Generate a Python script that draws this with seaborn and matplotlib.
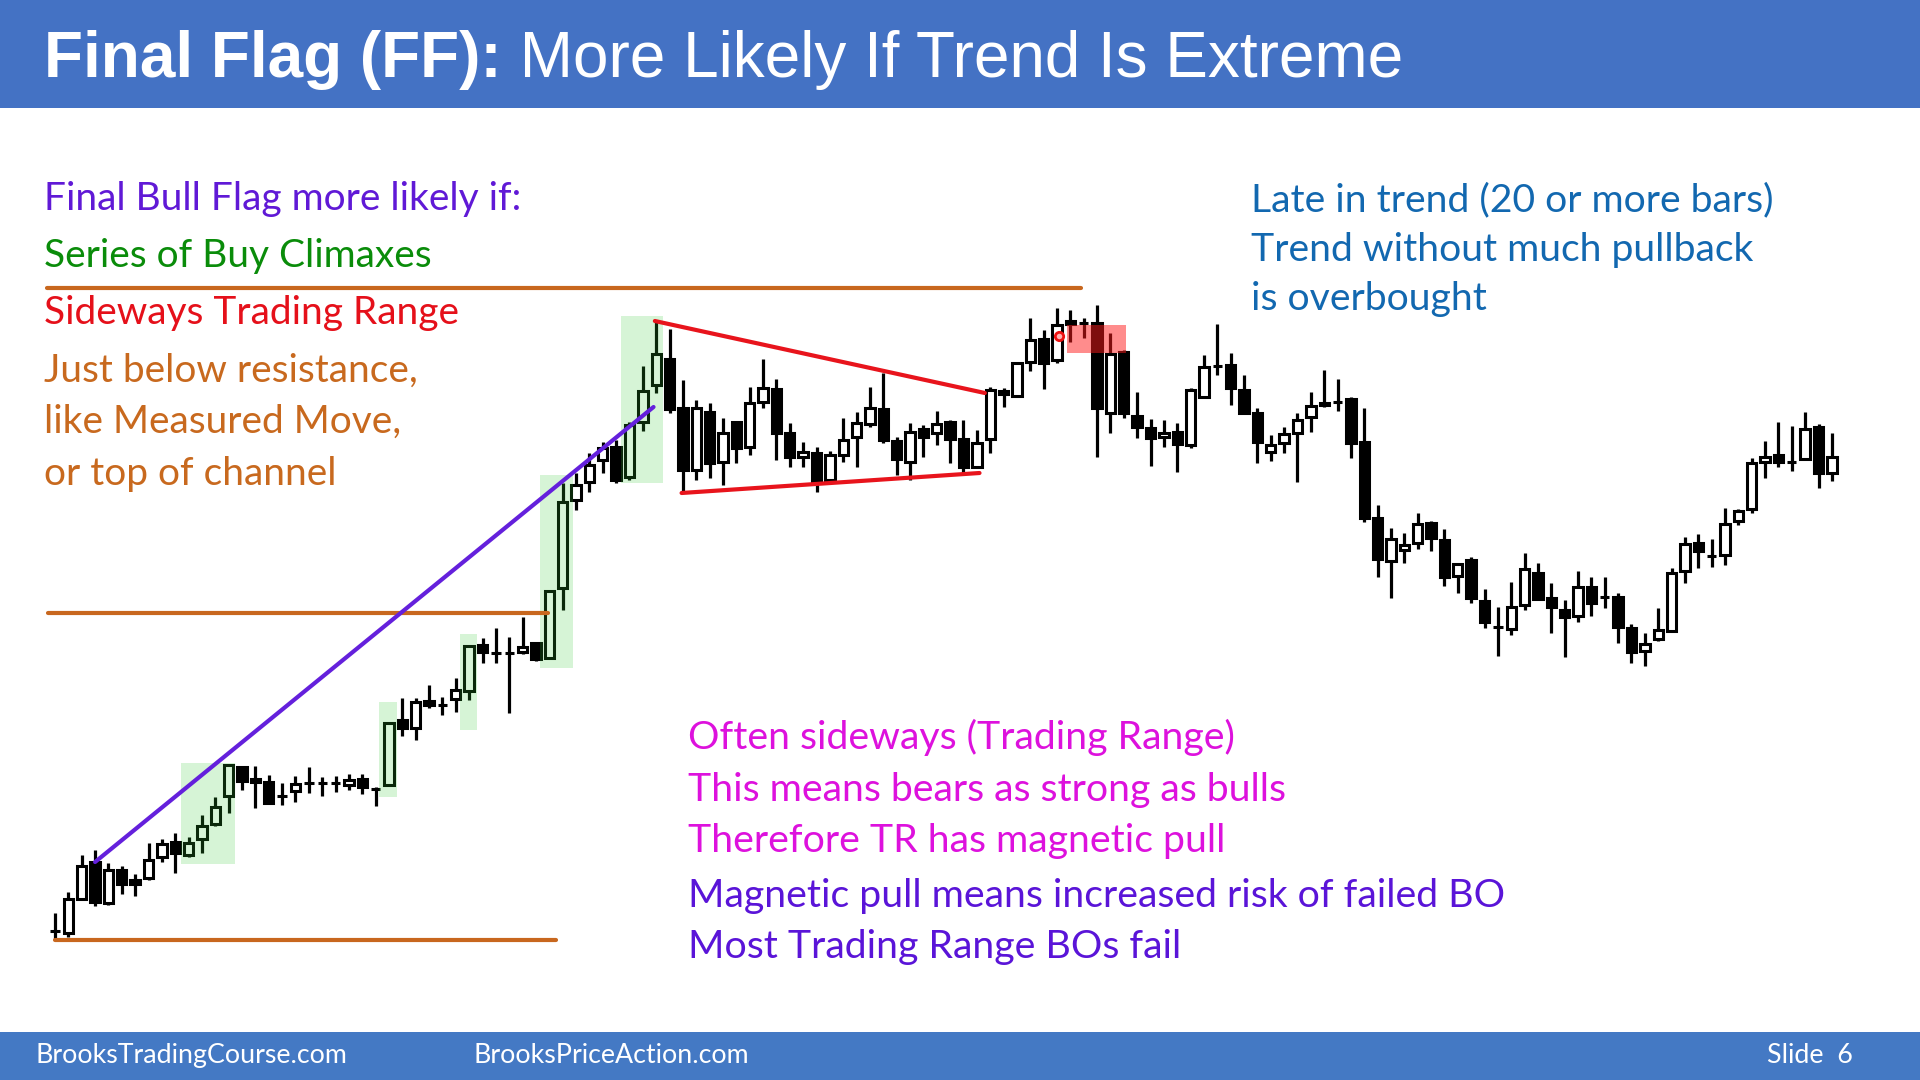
import matplotlib
matplotlib.use("Agg")
import matplotlib.pyplot as plt
import seaborn as sns
import pandas as pd
from matplotlib.patches import Rectangle

# OHLC of every bar (price units), bar index = position in list
opens = [69, 67, 101, 138, 97, 130, 120, 122, 143, 158, 145, 161, 176, 204, 233, 221, 218, 204, 209, 217,
         217, 217, 215, 221, 211, 215, 280, 272, 299, 295, 301, 309, 355, 347, 347, 348, 357, 342, 412, 500,
         518, 540, 553, 523, 578, 615, 641, 592, 530, 588, 538, 578, 553, 598, 611, 567, 543, 547, 520, 545,
         563, 576, 591, 559, 538, 571, 567, 578, 561, 533, 561, 609, 604, 638, 661, 640, 679, 677, 677, 587,
         648, 584, 572, 563, 568, 555, 603, 634, 635, 610, 587, 548, 557, 567, 583, 597, 598, 601, 558, 482,
         439, 450, 457, 477, 460, 424, 440, 399, 373, 371, 395, 427, 402, 390, 384, 413, 403, 403, 372, 349,
         361, 369, 429, 457, 444, 445, 479, 491, 538, 545, 538, 541, 573, 527]
highs = [87, 108, 145, 150, 137, 134, 126, 157, 161, 167, 163, 185, 203, 236, 233, 234, 225, 217, 224, 233,
         223, 224, 226, 226, 213, 278, 302, 302, 315, 303, 322, 355, 362, 372, 363, 383, 358, 410, 517, 527,
         547, 558, 560, 578, 634, 680, 671, 620, 600, 597, 582, 579, 613, 641, 621, 577, 558, 553, 549, 582,
         588, 613, 627, 563, 577, 575, 589, 580, 580, 570, 613, 612, 638, 682, 670, 692, 690, 682, 695, 667,
         650, 608, 581, 580, 577, 612, 645, 676, 647, 625, 592, 565, 573, 587, 608, 630, 621, 603, 592, 495,
         472, 467, 487, 479, 471, 437, 443, 411, 393, 418, 447, 437, 417, 400, 429, 423, 423, 407, 376, 367,
         392, 432, 463, 466, 461, 492, 491, 542, 559, 578, 574, 588, 576, 567]
lows = [60, 63, 100, 94, 95, 106, 104, 120, 138, 127, 143, 147, 174, 187, 210, 192, 196, 195, 198, 207,
        204, 208, 210, 206, 194, 214, 264, 260, 292, 285, 288, 300, 337, 337, 287, 346, 339, 341, 390, 490,
        508, 527, 517, 520, 569, 607, 587, 508, 520, 522, 515, 537, 545, 592, 540, 533, 533, 508, 517, 538,
        533, 573, 557, 525, 520, 543, 555, 537, 527, 532, 547, 593, 603, 629, 611, 637, 658, 662, 543, 567,
        582, 562, 534, 553, 528, 552, 602, 625, 595, 586, 537, 539, 547, 518, 568, 593, 589, 542, 478, 423,
        402, 437, 451, 449, 414, 407, 397, 372, 344, 365, 390, 400, 367, 343, 378, 384, 392, 357, 337, 334,
        359, 369, 417, 432, 433, 435, 475, 487, 522, 533, 529, 540, 512, 519]
closes = [69, 101, 134, 98, 130, 116, 116, 140, 156, 147, 157, 174, 193, 235, 219, 218, 197, 204, 216, 217,
          217, 217, 220, 213, 211, 277, 272, 298, 295, 295, 310, 354, 348, 347, 347, 353, 341, 409, 498, 515,
          535, 552, 520, 575, 609, 646, 591, 530, 592, 537, 567, 552, 597, 612, 567, 543, 548, 518, 545, 560,
          577, 592, 560, 541, 568, 563, 576, 561, 533, 557, 610, 606, 637, 660, 637, 675, 676, 677, 592, 646,
          587, 573, 562, 567, 556, 610, 633, 634, 612, 587, 558, 555, 566, 580, 594, 595, 598, 557, 482, 441,
          461, 455, 476, 462, 423, 436, 402, 378, 373, 393, 431, 401, 393, 383, 413, 397, 403, 373, 348, 356,
          370, 427, 456, 449, 444, 476, 489, 537, 543, 538, 538, 571, 527, 543]

# highlighted bar groups: (first bar, last bar, low price, high price)
climax_zones = [(9.4, 13.5, 136, 237), (24.25, 25.6, 203, 298), (30.3, 31.6, 270, 366),
                (36.3, 38.8, 332, 525), (42.4, 45.5, 517, 684)]
final_flag_zone = (75.75, 80.2, 647, 675)
final_flag_dot = (75.15, 664)

# reference lines: (bar start, bar end, price start, price end)
resistance_lines = [(-0.6, 76.8, 712, 712), (-0.5, 36.9, 387, 387), (0.0, 37.5, 60, 60)]
trend_line = (3.0, 44.8, 138, 593)
triangle_lines = [(44.9, 69.6, 679, 607), (46.9, 69.2, 507, 527)]

W, H = 1920, 1080
BAR_PX, X0_PX = 13.36, 55

sns.set_theme(style="white")
body_font = ["Lato", "DejaVu Sans"]
title_font = ["Liberation Sans", "DejaVu Sans"]

fig = plt.figure(figsize=(W / 100, H / 100), dpi=100)
ax = fig.add_axes([0, 0, 1, 1])
ax.set_axis_off()
ax.set_xlim(-X0_PX / BAR_PX, (W - X0_PX) / BAR_PX)
ax.set_ylim(1000 - H, 1000)

df = pd.DataFrame({"o": opens, "h": highs, "l": lows, "c": closes})
df["x"] = range(len(df))
df["bottom"] = df[["o", "c"]].min(axis=1)
df["height"] = (df["c"] - df["o"]).abs()
df["fill"] = ["white" if c >= o else "black" for o, c in zip(df["o"], df["c"])]

# candles
ax.vlines(df["x"], df["l"], df["h"], color="black", linewidth=2.3, zorder=2)
ax.bar(df["x"], df["height"], bottom=df["bottom"], width=0.7, color=df["fill"],
       edgecolor="black", linewidth=2.2, zorder=3)

# green climax zones and red final-flag zone
for x1, x2, y1, y2 in climax_zones:
    ax.add_patch(Rectangle((x1, y1), x2 - x1, y2 - y1, facecolor="#33cc33", alpha=0.2,
                           edgecolor="none", zorder=4))
x1, x2, y1, y2 = final_flag_zone
ax.add_patch(Rectangle((x1, y1), x2 - x1, y2 - y1, facecolor="#ff1a1a", alpha=0.5,
                       edgecolor="none", zorder=4))
ax.plot(final_flag_dot[0], final_flag_dot[1], marker="o", markersize=6, markerfacecolor="#ffb0b0",
        markeredgecolor="#ee1111", markeredgewidth=2, zorder=6)

# lines
for x1, x2, y1, y2 in resistance_lines:
    sns.lineplot(x=[x1, x2], y=[y1, y2], color="#C8671E", linewidth=3, ax=ax, zorder=5)
sns.lineplot(x=[trend_line[0], trend_line[1]], y=[trend_line[2], trend_line[3]],
             color="#6420DC", linewidth=3, ax=ax, zorder=5)
for x1, x2, y1, y2 in triangle_lines:
    sns.lineplot(x=[x1, x2], y=[y1, y2], color="#E8141C", linewidth=3, ax=ax, zorder=5)

# header and footer bands
ax.add_patch(Rectangle((0, 1 - 108 / H), 1, 108 / H, transform=ax.transAxes,
                       facecolor="#4472C4", edgecolor="none", zorder=7))
ax.add_patch(Rectangle((0, 0), 1, 48 / H, transform=ax.transAxes,
                       facecolor="#4479C4", edgecolor="none", zorder=7))


def put(x, y, s, **kw):
    return fig.text(x / W, 1 - y / H, s, va="baseline", ha="left", **kw)


t1 = put(44, 77, "Final Flag (FF):", color="white", fontsize=46, fontweight="bold",
         family=title_font, zorder=8)
ax.annotate(" More Likely If Trend Is Extreme", xy=(1, 0), xycoords=t1, va="bottom",
            color="white", fontsize=46, family=title_font, zorder=8)

left_lines = [("Final Bull Flag more likely if:", "#6019D6", 210),
              ("Series of Buy Climaxes", "#0A8C0A", 267),
              ("Sideways Trading Range", "#E5101A", 324),
              ("Just below resistance,", "#C8691E", 382),
              ("like Measured Move,", "#C8691E", 433),
              ("or top of channel", "#C8691E", 485)]
for s, col, y in left_lines:
    put(44, y, s, color=col, fontsize=28, family=body_font)

right_lines = [("Late in trend (20 or more bars)", 211), ("Trend without much pullback", 261),
               ("is overbought", 310)]
for s, y in right_lines:
    put(1251, y, s, color="#1268B0", fontsize=28.2, family=body_font)

bottom_lines = [("Often sideways (Trading Range)", "#DD11DD", 749),
                ("This means bears as strong as bulls", "#DD11DD", 801),
                ("Therefore TR has magnetic pull", "#DD11DD", 852),
                ("Magnetic pull means increased risk of failed BO", "#5A14D8", 907),
                ("Most Trading Range BOs fail", "#5A14D8", 958)]
for s, col, y in bottom_lines:
    put(688, y, s, color=col, fontsize=28.3, family=body_font)

for s, x in [("BrooksTradingCourse.com", 35), ("BrooksPriceAction.com", 474), ("Slide  6", 1767)]:
    put(x, 1063, s, color="white", fontsize=19.3, family=body_font, zorder=8)

fig.savefig("out.png", dpi=100)
